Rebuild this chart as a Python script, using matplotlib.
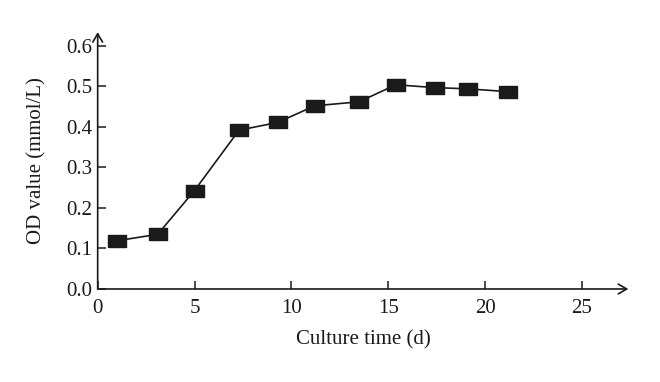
import matplotlib.pyplot as plt

# data
days = [1.0, 3.1, 5.0, 7.3, 9.3, 11.2, 13.5, 15.4, 17.4, 19.1, 21.2]
od = [0.119, 0.135, 0.243, 0.392, 0.411, 0.452, 0.462, 0.504, 0.497, 0.494, 0.487]
xticks = [0, 5, 10, 15, 20, 25]
yticks = [0.0, 0.1, 0.2, 0.3, 0.4, 0.5, 0.6]

plt.rcParams['font.family'] = ['Liberation Serif', 'DejaVu Serif']

fig = plt.figure(figsize=(6.6, 3.82), dpi=100)
ax = fig.add_axes([0.148, 0.2435, 0.804, 0.6725])

# wide flat square marker
rect = [(-1, -0.62), (1, -0.62), (1, 0.62), (-1, 0.62), (-1, -0.62)]
ax.plot(days, od, color='#1a1a1a', lw=1.2, marker=rect, markersize=13.5,
        markerfacecolor='#1a1a1a', markeredgecolor='#1a1a1a', clip_on=False)

ax.set_xlim(0, 27.4)
ax.set_ylim(0, 0.634)
ax.set_xticks(xticks)
ax.set_xticklabels([str(t) for t in xticks])
ax.set_yticks(yticks)
ax.set_yticklabels(['%.1f' % t for t in yticks])

for s in ['top', 'right', 'left', 'bottom']:
    ax.spines[s].set_visible(False)

# axes with arrow heads
arr = dict(arrowstyle='->,head_length=0.6,head_width=0.35', lw=1.2, color='#1a1a1a',
           shrinkA=0, shrinkB=0)
ax.annotate('', xy=(1, 0), xytext=(0, 0), xycoords='axes fraction', arrowprops=arr)
ax.annotate('', xy=(0, 1), xytext=(0, 0), xycoords='axes fraction', arrowprops=arr)

ax.tick_params(direction='in', length=6, width=1.1, color='#1a1a1a',
               labelsize=15, labelcolor='#1a1a1a')
ax.tick_params(axis='x', pad=7)
ax.tick_params(axis='y', pad=4)

ax.set_xlabel('Culture time (d)', fontsize=15, color='#1a1a1a', labelpad=9)
ax.set_ylabel('OD value (mmol/L)', fontsize=15, color='#1a1a1a', labelpad=14)

fig.savefig('out.png', dpi=100)
